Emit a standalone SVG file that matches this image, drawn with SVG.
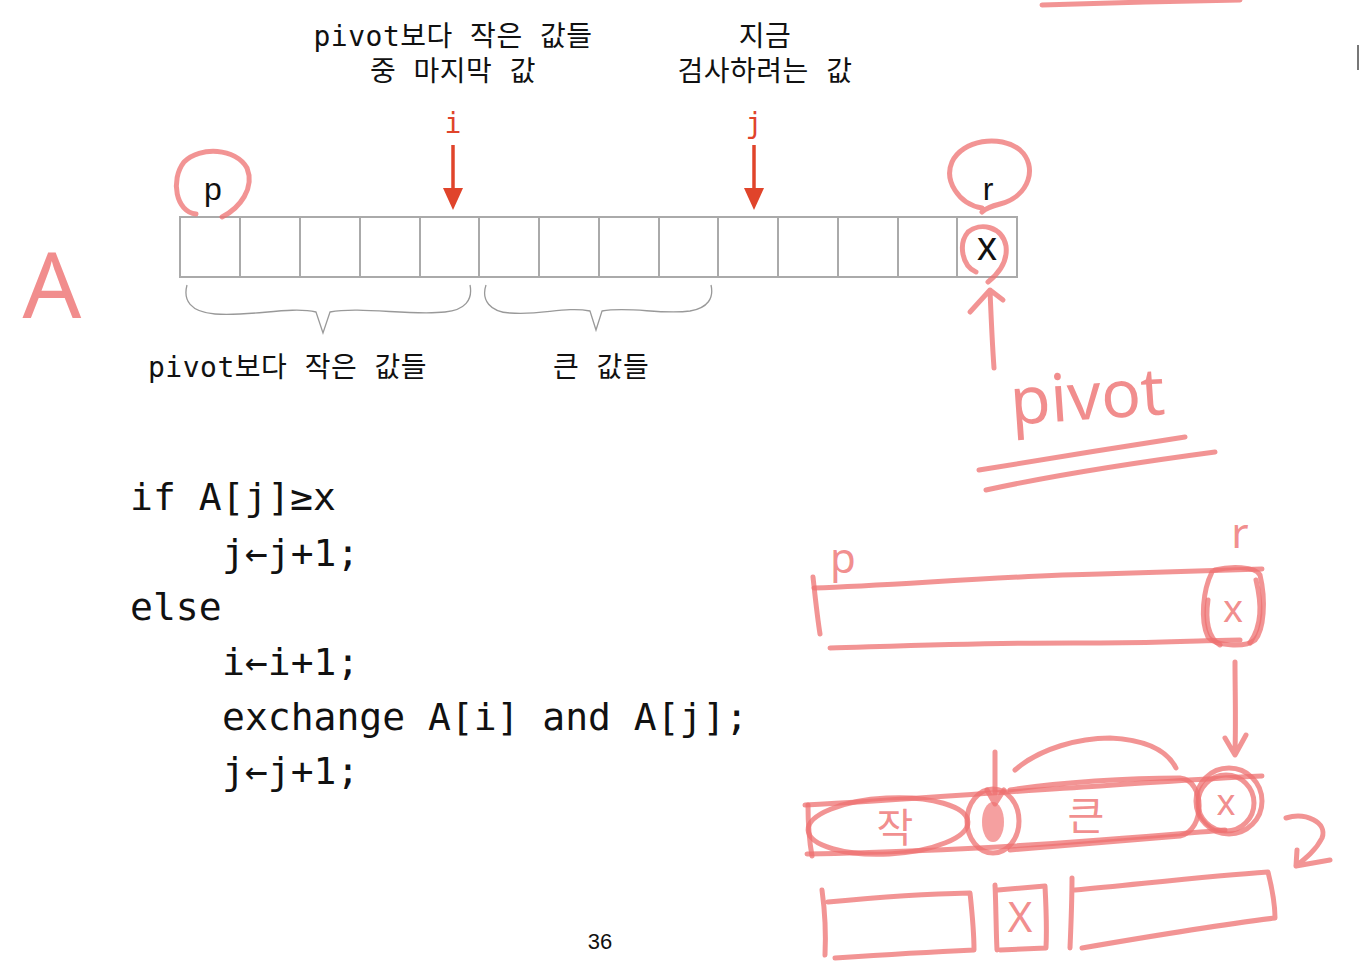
<svg xmlns="http://www.w3.org/2000/svg" width="1360" height="964" viewBox="0 0 1360 964">
<defs>
<style>
.lbl{font-family:"DejaVu Sans Mono","Noto Sans CJK KR",monospace;font-size:28px;letter-spacing:0.5px;fill:#111}
.code{font-family:"DejaVu Sans Mono","Liberation Mono",monospace;font-size:38px;fill:#111}
.sans{font-family:"Liberation Sans","Noto Sans",sans-serif;fill:#111}
.idx{font-family:"DejaVu Sans Mono",monospace;font-size:28px;fill:#e0442b}
.cell{fill:#fff;stroke:#aaa;stroke-width:2}
.brace{fill:none;stroke:#999;stroke-width:1.3}
.ink{fill:none;stroke:#ee7070;stroke-opacity:0.75;stroke-width:5;stroke-linecap:round;stroke-linejoin:round}
.inkt{fill:#ee7070;fill-opacity:0.8;font-family:"Noto Sans","Noto Sans CJK KR",sans-serif}
.arr{stroke:#e0442b;stroke-width:3.5}
</style>
</defs>
<rect width="1360" height="964" fill="#fff"/>

<g id="top-labels">
<text class="lbl" x="453" y="46" text-anchor="middle">pivot보다 작은 값들</text>
<text class="lbl" x="453" y="81" text-anchor="middle">중 마지막 값</text>
<text class="lbl" x="765" y="46" text-anchor="middle">지금</text>
<text class="lbl" x="765" y="81" text-anchor="middle">검사하려는  값</text>
</g>

<g id="array">
<rect class="cell" x="180" y="217" width="837" height="60"/>
<path class="cell" d="M240,217V277M300,217V277M360,217V277M420,217V277M479,217V277M539,217V277M599,217V277M659,217V277M718,217V277M778,217V277M838,217V277M898,217V277M957,217V277"/>
<text class="sans" x="213" y="200" font-size="32" text-anchor="middle">p</text>
<text class="sans" x="988" y="200" font-size="32" text-anchor="middle">r</text>
<text class="sans" x="987" y="260" font-size="40" text-anchor="middle">x</text>
</g>

<g id="pointer-i">
<text class="idx" x="453" y="133" text-anchor="middle">i</text>
<line class="arr" x1="453" y1="145" x2="453" y2="192"/>
<polygon points="443,188 463,188 453,210" fill="#e0442b"/>
</g>
<g id="pointer-j">
<text class="idx" x="754" y="133" text-anchor="middle">j</text>
<line class="arr" x1="754" y1="145" x2="754" y2="192"/>
<polygon points="744,188 764,188 754,210" fill="#e0442b"/>
</g>

<g id="braces">
<path class="brace" d="M187,285 C183,300 190,312 215,314 C250,317 290,306 316,312 L323,333 L330,312 C360,306 410,316 445,312 C465,310 473,300 470,285"/>
<path class="brace" d="M486,285 C481,300 490,312 510,313 C540,316 565,306 590,311 L596,330 L602,311 C630,306 660,315 690,311 C708,308 714,298 711,285"/>
</g>

<g id="bottom-labels">
<text class="lbl" x="148" y="377">pivot보다 작은 값들</text>
<text class="lbl" x="553" y="377">큰 값들</text>
</g>

<g id="code">
<text class="code" x="130" y="510">if A[j]≥x</text>
<text class="code" x="222" y="566">j←j+1;</text>
<text class="code" x="130" y="620">else</text>
<text class="code" x="222" y="675">i←i+1;</text>
<text class="code" x="222" y="730">exchange A[i] and A[j];</text>
<text class="code" x="222" y="784">j←j+1;</text>
</g>

<text class="sans" x="600" y="949" font-size="22" text-anchor="middle">36</text>

<g id="handwriting">
<path class="ink" d="M1042,5 C1100,3 1180,1 1240,0"/>
<line x1="1358" y1="45" x2="1358" y2="70" stroke="#777" stroke-width="2"/>
<text class="inkt" x="52" y="318" font-size="92" text-anchor="middle">A</text>
<path class="ink" d="M196,214 C176,212 170,180 184,162 C200,146 236,148 247,168 C255,188 240,208 222,217"/>
<path class="ink" d="M982,208 C958,204 944,180 952,162 C962,140 1000,134 1020,150 C1038,166 1030,196 1000,204 C992,206 986,208 982,212"/>
<path class="ink" d="M976,272 C962,266 958,244 968,232 C980,222 1002,226 1006,246 C1008,262 998,274 988,282"/>
<path class="ink" d="M994,368 C992,340 991,315 990,290 M970,312 L990,290 L1003,300"/>
<text class="inkt" x="1010" y="420" font-size="66" transform="rotate(-4 1080 400)">pivot</text>
<path class="ink" d="M979,470 C1040,460 1120,447 1185,437"/>
<path class="ink" d="M986,490 C1050,476 1140,462 1215,452"/>

<text class="inkt" x="843" y="573" font-size="42" text-anchor="middle">p</text>
<text class="inkt" x="1240" y="548" font-size="42" text-anchor="middle">r</text>
<path class="ink" d="M814,588 C900,585 1000,576 1100,574 C1170,572 1230,570 1262,569"/>
<path class="ink" d="M813,577 C815,595 817,615 820,634"/>
<path class="ink" d="M830,648 C900,646 1000,642 1100,643 C1170,643 1210,640 1240,640"/>
<path class="ink" d="M1215,570 C1230,566 1255,566 1260,575 C1266,600 1264,630 1255,640 C1245,648 1215,646 1208,637 C1200,620 1203,590 1212,572"/>
<path class="ink" d="M1208,600 C1205,620 1208,638 1220,645 M1256,580 C1262,605 1262,625 1250,643"/>
<text class="inkt" x="1233" y="622" font-size="38" text-anchor="middle">x</text>
<path class="ink" d="M1235,662 C1235,690 1236,720 1235,752 M1225,738 L1235,755 L1246,735"/>

<path class="ink" d="M805,805 C900,800 1000,792 1100,786 C1170,781 1220,778 1262,776"/>
<path class="ink" d="M807,854 C900,852 1000,848 1100,840 C1160,836 1200,832 1225,830"/>
<path class="ink" d="M808,805 C808,825 810,845 812,856"/>
<ellipse class="ink" cx="888" cy="826" rx="80" ry="28" transform="rotate(-3 888 826)"/>
<text class="inkt" x="895" y="842" font-size="40" text-anchor="middle">작</text>
<ellipse class="ink" cx="993" cy="821" rx="26" ry="32"/>
<ellipse cx="993" cy="822" rx="11" ry="20" fill="#ee6060" fill-opacity="0.6"/>
<path class="ink" d="M995,752 L995,802 M987,790 L995,804 L1004,790"/>
<path class="ink" d="M1015,770 C1040,748 1080,738 1110,738 C1150,740 1168,752 1176,768"/>
<path class="ink" d="M1010,790 C1060,782 1130,778 1180,778 C1205,780 1206,830 1180,836 C1130,840 1060,846 1010,850"/>
<text class="inkt" x="1086" y="830" font-size="40" text-anchor="middle">큰</text>
<circle class="ink" cx="1229" cy="801" r="33"/>
<circle class="ink" cx="1226" cy="803" r="28"/>
<text class="inkt" x="1226" y="815" font-size="36" text-anchor="middle">x</text>
<path class="ink" d="M1286,818 C1305,812 1328,822 1322,838 C1316,850 1306,858 1296,866 M1297,850 L1296,866 L1330,860"/>

<path class="ink" d="M822,890 C825,912 826,935 825,955 M828,902 C870,898 920,894 970,893 C972,912 974,930 974,950 C930,952 880,955 835,958"/>
<path class="ink" d="M995,885 C996,905 996,930 997,950 M998,890 L1045,886 C1046,905 1047,928 1046,948 L1000,950"/>
<text class="inkt" x="1020" y="932" font-size="42" text-anchor="middle">X</text>
<path class="ink" d="M1072,878 C1072,900 1071,925 1070,948 M1075,890 C1140,884 1210,876 1268,872 C1272,888 1275,903 1275,918 C1210,926 1140,938 1082,948"/>
</g>
</svg>
